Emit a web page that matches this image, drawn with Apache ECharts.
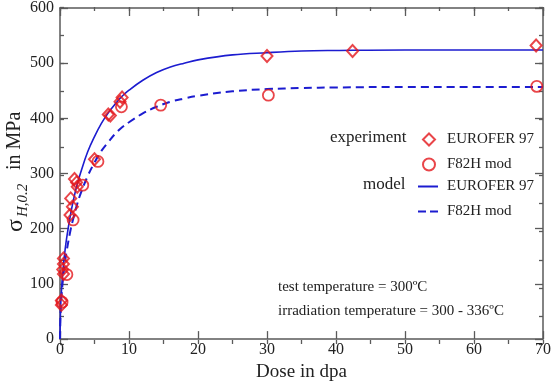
<!DOCTYPE html>
<html>
<head>
<meta charset="utf-8">
<script src="https://cdn.jsdelivr.net/npm/echarts@6/dist/echarts.min.js"></script>
<style>
html,body{margin:0;padding:0;background:#fff;}
#c{width:554px;height:387px;}
</style>
</head>
<body>
<div id="c"></div>
<script>
// Experimental data (dose in dpa, sigma in MPa)
var euroferExp = [[0.2,70],[0.2,62],[0.5,146],[0.5,136],[0.4,126],[0.5,118],[1.45,225],[1.8,240],[1.55,255],[2.1,290],[2.4,284],[2.5,276],[5.0,326],[7.0,407],[7.3,405],[8.7,430],[9.0,438],[30.0,513],[42.4,522],[69.0,532]];
var f82hExp = [[0.3,67],[1.0,117],[1.9,216],[3.3,279],[5.5,322],[8.9,421],[14.6,424],[30.2,442],[69.1,458]];
// Model curves
var modelDose = [0,0.1,0.25,0.5,0.75,1,1.5,2,2.5,3,4,5,6,7,8,9,10,12,14,16,18,20,25,30,35,40,50,60,70];
var euroferModel = [0,61,95,134,163,186,224,255,281,302,339,367,391,410,426,440,451,469,483,493,500,506,515,519,522,523,524,524,524];
var f82hModel = [0,53,83,117,142,162,196,222,245,264,295,320,341,357,372,384,393,409,421,430,436,441,449,453,455,456,457,457,457];
var xTicks = [0,10,20,30,40,50,60,70];
var yTicks = [0,100,200,300,400,500,600];

var RED = '#e4161b', BLUE = '#1c1cd0', AX = '#5a5a5a';
var FONT = 'Liberation Serif';
var XMIN = xTicks[0], XMAX = xTicks[xTicks.length-1];
var YMIN = yTicks[0], YMAX = yTicks[yTicks.length-1];

function zip(xs, ys){ return xs.map(function(x,i){ return [x, ys[i]]; }); }

function majorAxis(extra){
  return Object.assign({
    type:'value', gridIndex:0,
    axisLine:{show:true, onZero:false, lineStyle:{color:AX, width:1.5}},
    axisTick:{show:true, inside:true, length:8, lineStyle:{color:AX, width:1.3}},
    splitLine:{show:false}
  }, extra);
}
function minorAxis(extra){
  return Object.assign({
    type:'value', gridIndex:1,
    axisLine:{show:false, onZero:false},
    axisLabel:{show:false},
    axisTick:{show:true, inside:true, length:4, lineStyle:{color:AX, width:1.3}},
    splitLine:{show:false}
  }, extra);
}

var chart = echarts.init(document.getElementById('c'), null, {renderer:'canvas'});
var option = {
  animation:false,
  backgroundColor:'#fff',
  grid:[
    {left:60, right:11, top:7, bottom:43, containLabel:false},
    {left:60, right:11, top:7, bottom:43, containLabel:false}
  ],
  xAxis:[
    majorAxis({min:XMIN, max:XMAX, interval:10, position:'bottom',
      axisLabel:{fontFamily:FONT, fontSize:16, color:'#222', margin:3},
      name:'Dose in dpa', nameLocation:'middle', nameGap:20,
      nameTextStyle:{fontFamily:FONT, fontSize:19, color:'#222'}}),
    majorAxis({min:XMIN, max:XMAX, interval:10, position:'top', axisLabel:{show:false}}),
    minorAxis({min:XMIN, max:XMAX, interval:5, position:'bottom'}),
    minorAxis({min:XMIN, max:XMAX, interval:5, position:'top'})
  ],
  yAxis:[
    majorAxis({min:YMIN, max:YMAX, interval:100, position:'left',
      axisLabel:{fontFamily:FONT, fontSize:16, color:'#222', margin:6}}),
    majorAxis({min:YMIN, max:YMAX, interval:100, position:'right', axisLabel:{show:false}}),
    minorAxis({min:YMIN, max:YMAX, interval:50, position:'left'}),
    minorAxis({min:YMIN, max:YMAX, interval:50, position:'right'})
  ],
  legend:[
    {orient:'vertical', left:417, top:127, itemWidth:12, itemHeight:12, itemGap:10,
     data:[{name:'EUROFER 97 exp', icon:'diamond'},{name:'F82H mod exp', icon:'circle'}],
     formatter:function(n){ return n.replace(' exp',''); },
     textStyle:{fontFamily:FONT, fontSize:15, color:'#222', padding:[0,0,0,7]}},
    {orient:'vertical', left:413, top:174, itemWidth:20, itemHeight:14, itemGap:10,
     data:[{name:'EUROFER 97', icon:'path://M0,6H20V8H0Z'},
           {name:'F82H mod', icon:'path://M0,6H8V8H0Z M12,6H20V8H12Z'}],
     itemStyle:{color:BLUE, borderWidth:0},
     textStyle:{fontFamily:FONT, fontSize:15, color:'#222', padding:[0,0,0,4]}}
  ],
  graphic:[
    {type:'text', left:330, top:129, style:{text:'experiment', font:'17px "Liberation Serif"', fill:'#222'}},
    {type:'text', left:363, top:176, style:{text:'model', font:'17px "Liberation Serif"', fill:'#222'}},
    {type:'text', left:278, top:280, style:{text:'test temperature = 300ºC', font:'15px "Liberation Serif"', fill:'#222'}},
    {type:'text', left:278, top:304, style:{text:'irradiation temperature = 300 - 336ºC', font:'15px "Liberation Serif"', fill:'#222'}},
    {type:'group', x:16, y:170, rotation:Math.PI/2, children:[
      {type:'text', x:-62, y:0, style:{text:'σ', font:'24px "Liberation Serif"', fill:'#222', textVerticalAlign:'middle'}},
      {type:'text', x:-47, y:7, style:{text:'H,0.2', font:'italic 15px "Liberation Serif"', fill:'#222', textVerticalAlign:'middle'}},
      {type:'text', x:-5, y:-1, style:{text:' in MPa', font:'20px "Liberation Serif"', fill:'#222', textVerticalAlign:'middle'}}
    ]}
  ],
  series:[
    {name:'EUROFER 97', type:'line', data:zip(modelDose, euroferModel), smooth:0.4, symbol:'none',
     lineStyle:{color:BLUE, width:1.6}, itemStyle:{color:BLUE}, z:2},
    {name:'F82H mod', type:'line', data:zip(modelDose, f82hModel), smooth:0.4, symbol:'none',
     lineStyle:{color:BLUE, width:2, type:[8,5]}, itemStyle:{color:BLUE}, z:2},
    {name:'EUROFER 97 exp', type:'scatter', data:euroferExp, symbol:'diamond', symbolSize:[11,12],
     itemStyle:{color:'rgba(0,0,0,0)', borderColor:RED, borderWidth:2}, z:3},
    {name:'F82H mod exp', type:'scatter', data:f82hExp, symbol:'circle', symbolSize:11,
     itemStyle:{color:'rgba(0,0,0,0)', borderColor:RED, borderWidth:1.8}, z:3}
  ]
};
chart.setOption(option);
</script>
</body>
</html>
